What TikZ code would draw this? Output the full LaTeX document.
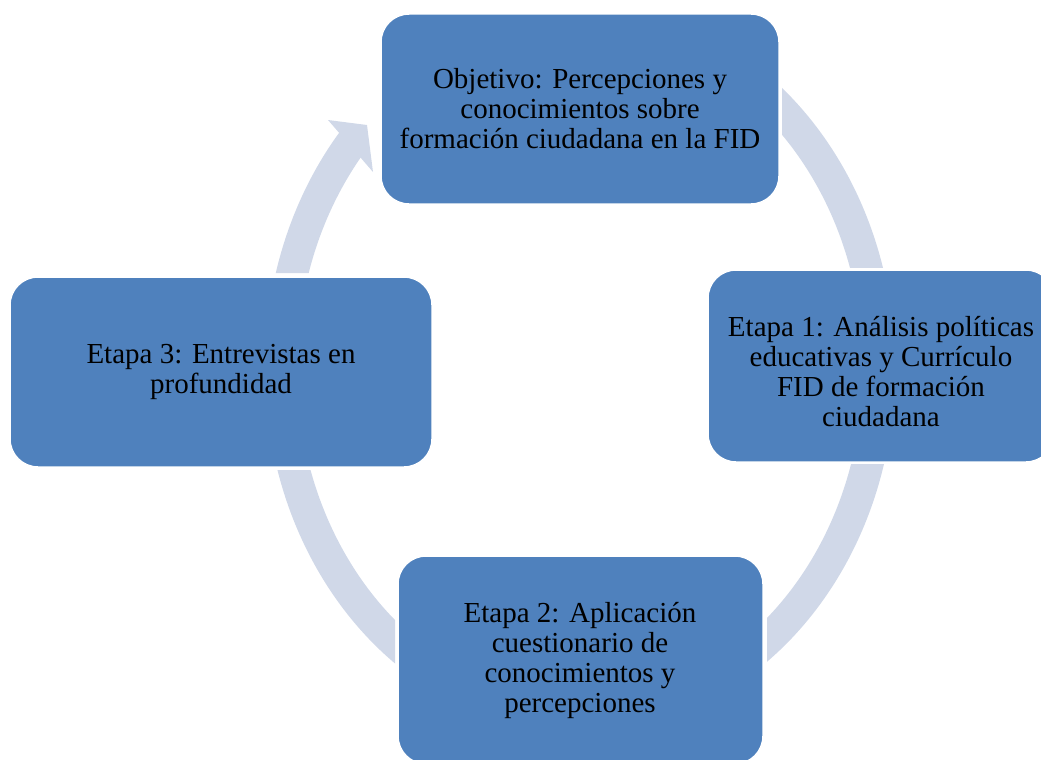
\documentclass[tikz,border=0pt]{standalone}
\usepackage{fontspec}
\setmainfont{Liberation Serif}
\definecolor{boxblue}{HTML}{4F81BD}
\definecolor{ringgray}{HTML}{D0D8E8}
\begin{document}
\begin{tikzpicture}[x=1pt,y=-1pt,
  stepbox/.style={draw=white, line width=1.5pt, fill=boxblue, rounded corners=28pt, inner sep=0pt},
  steptext/.style={align=center, font=\fontsize{29}{30}\selectfont, inner sep=0pt},
  ringfill/.style={fill=ringgray, even odd rule}]
\useasboundingbox (0,0) rectangle (1041,760);
\clip (0,0) rectangle (1041,760);

% ring segments between the boxes
\begin{scope}
  \clip (782,0) rectangle (1041,267);
  \fill[ringfill] (580,368) ellipse [x radius=315pt, y radius=365pt]
                  (580,368) ellipse [x radius=283pt, y radius=333pt];
\end{scope}
\begin{scope}
  \clip (767,464) rectangle (1041,760);
  \fill[ringfill] (580,368) ellipse [x radius=315pt, y radius=365pt]
                  (580,368) ellipse [x radius=283pt, y radius=333pt];
\end{scope}
\begin{scope}
  \clip (0,470) rectangle (395,760);
  \fill[ringfill] (580,368) ellipse [x radius=315pt, y radius=365pt]
                  (580,368) ellipse [x radius=283pt, y radius=333pt];
\end{scope}
\begin{scope}
  \clip (0,0) -- (223,0) -- (463,273) -- (0,273) -- cycle;
  \fill[ringfill] (580,368) ellipse [x radius=315pt, y radius=365pt]
                  (580,368) ellipse [x radius=283pt, y radius=333pt];
\end{scope}
% arrowhead closing the cycle
\fill[ringgray] (328,120) -- (367,125) -- (373,172) -- cycle;

% step boxes
\node[stepbox, minimum width=398pt, minimum height=190pt] (obj) at (580,109) {};
\node[stepbox, minimum width=346pt, minimum height=192pt] (e1) at (881,366) {};
\node[stepbox, minimum width=365pt, minimum height=208pt] (e2) at (580.5,660) {};
\node[stepbox, minimum width=422pt, minimum height=190pt] (e3) at (221,372) {};

% box texts
\node[steptext] (tobj) at (580,109) {Objetivo: Percepciones y\\conocimientos sobre\\formación ciudadana en la FID};
\node[steptext] (te1) at (881,372) {Etapa 1: Análisis políticas\\educativas y Currículo\\FID de formación\\ciudadana};
\node[steptext] (te2) at (580,660) {Etapa 2: Aplicación\\cuestionario de\\conocimientos y\\percepciones};
\node[steptext] (te3) at (221,372) {Etapa 3: Entrevistas en\\profundidad};
\end{tikzpicture}
\end{document}
